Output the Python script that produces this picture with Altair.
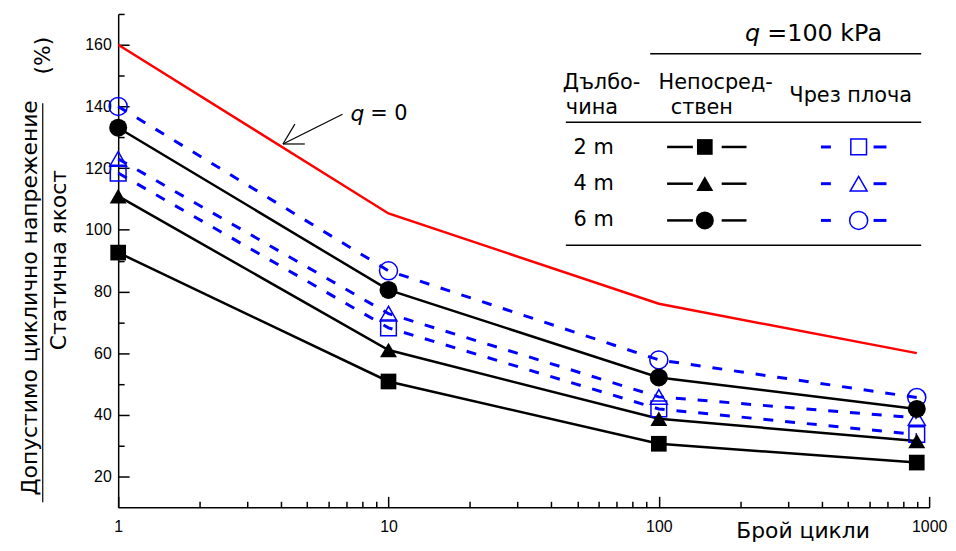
import altair as alt
import pandas as pd

FONT = "DejaVu Sans"
TICK_FONT = "Liberation Sans"

# ---------------- data ----------------
cycles = [1, 10, 100, 900]
q0_line = [160, 105.3, 76, 60]
depths = ["2 m", "4 m", "6 m"]
direct = {
    "2 m": [92.6, 50.8, 30.6, 24.5],
    "4 m": [110.9, 61, 38.7, 31.5],
    "6 m": [133.1, 80.5, 52.1, 41.9],
}
plate = {
    "2 m": [118.4, 68.2, 41.9, 33.6],
    "4 m": [123, 72.8, 45.8, 39],
    "6 m": [140, 86.7, 57.8, 45.6],
}
x_major = [1, 10, 100, 1000]
x_minor = [2, 3, 4, 5, 6, 7, 8, 9, 20, 30, 40, 50, 60, 70, 80, 90,
           200, 300, 400, 500, 600, 700, 800, 900]
y_major = [20, 40, 60, 80, 100, 120, 140, 160]
y_minor = [30, 50, 70, 90, 110, 130, 150, 170]

red_df = pd.DataFrame({"N": cycles, "v": q0_line})
rows = []
for d in depths:
    for n, v in zip(cycles, direct[d]):
        rows.append({"N": n, "v": v, "depth": d, "kind": "direct"})
    for n, v in zip(cycles, plate[d]):
        rows.append({"N": n, "v": v, "depth": d, "kind": "plate"})
df = pd.DataFrame(rows)
direct_df = df[df.kind == "direct"]
plate_df = df[df.kind == "plate"]

# ---------------- scales / axes ----------------
xs = alt.Scale(type="log", domain=[1, 1000], nice=False)
ys = alt.Scale(domain=[10, 170], nice=False, zero=False)

common_axis = dict(grid=False, title=None, tickColor="black", tickWidth=1.5,
                   domainColor="black", domainWidth=1.5, labelColor="black",
                   labelFont=TICK_FONT, labelFontSize=16)

ax_x_major = alt.Axis(values=x_major, format="d", orient="bottom",
                      tickSize=alt.ExprRef(expr="-11"), labelPadding=22,
                      labelFlush=False, labelAngle=0, **common_axis)
ax_x_minor = alt.Axis(values=x_minor, orient="bottom", labels=False, domain=False,
                      tickSize=alt.ExprRef(expr="-6"), grid=False, title=None,
                      tickColor="black", tickWidth=1.5)
ax_y_major = alt.Axis(values=y_major, format="d", orient="left",
                      tickSize=alt.ExprRef(expr="-11"), labelPadding=18,
                      **common_axis)
ax_y_minor = alt.Axis(values=y_minor, orient="left", labels=False, domain=False,
                      tickSize=alt.ExprRef(expr="-6"), grid=False, title=None,
                      tickColor="black", tickWidth=1.5)

shape_scale = alt.Scale(domain=depths, range=["square", "triangle-up", "circle"])
size_scale = alt.Scale(domain=depths, range=[250, 330, 290])
leg_size_scale = alt.Scale(domain=depths, range=[220, 300, 230])

red = alt.Chart(red_df).mark_line(color="#ff0000", strokeWidth=2.5).encode(
    x=alt.X("N:Q", scale=xs, axis=ax_x_major),
    y=alt.Y("v:Q", scale=ys, axis=ax_y_major),
)
black_lines = alt.Chart(direct_df).mark_line(color="black", strokeWidth=2.5).encode(
    x=alt.X("N:Q", scale=xs, axis=ax_x_minor),
    y=alt.Y("v:Q", scale=ys, axis=ax_y_minor),
    detail="depth:N",
)
blue_lines = alt.Chart(plate_df).mark_line(color="#0000ff", strokeWidth=3,
                                           strokeDash=[10, 12]).encode(
    x=alt.X("N:Q", scale=xs, axis=None),
    y=alt.Y("v:Q", scale=ys, axis=None),
    detail="depth:N",
)
blue_pts = alt.Chart(plate_df).mark_point(filled=False, color="#0000ff",
                                          strokeWidth=1.5, opacity=1).encode(
    x=alt.X("N:Q", scale=xs, axis=None),
    y=alt.Y("v:Q", scale=ys, axis=None),
    shape=alt.Shape("depth:N", scale=shape_scale, legend=None),
    size=alt.Size("depth:N", scale=size_scale, legend=None),
)
black_pts = alt.Chart(direct_df).mark_point(filled=True, color="black",
                                            opacity=1).encode(
    x=alt.X("N:Q", scale=xs, axis=None),
    y=alt.Y("v:Q", scale=ys, axis=None),
    shape=alt.Shape("depth:N", scale=shape_scale, legend=None),
    size=alt.Size("depth:N", scale=size_scale, legend=None),
)

# ---------------- annotations (pixel layout relative to plot area) ----------------
def texts(items, align="center", size=20, style="normal", angle=0):
    tdf = pd.DataFrame(items, columns=["t", "px", "py"])
    return alt.Chart(tdf).mark_text(align=align, baseline="middle", font=FONT,
                                    fontSize=size, fontStyle=style, angle=angle,
                                    color="black").encode(
        x=alt.X("px:Q", scale=None, axis=None),
        y=alt.Y("py:Q", scale=None, axis=None),
        text="t:N",
    )

seg_df = pd.DataFrame([
    # arrow q=0
    (226, 101, 166, 131, "black", 1.2),
    (166, 131, 178, 111, "black", 1.2),
    (166, 131, 188, 131, "black", 1.2),
    # legend table rules
    (536, 40, 809, 40, "black", 1.5),
    (451, 109, 809, 109, "black", 1.5),
    (451, 233, 809, 233, "black", 1.5),
    # y title fraction line
    (-76, 90, -76, 492, "black", 1.2),
    # legend: black segments
    (553, 134, 579, 134, "black", 2.5), (608, 134, 633, 134, "black", 2.5),
    (553, 171, 579, 171, "black", 2.5), (608, 171, 633, 171, "black", 2.5),
    (553, 208, 579, 208, "black", 2.5), (608, 208, 633, 208, "black", 2.5),
    # legend: blue dashes
    (708, 134, 718, 134, "#0000ff", 3), (761, 134, 774, 134, "#0000ff", 3),
    (708, 171, 718, 171, "#0000ff", 3), (761, 171, 774, 171, "#0000ff", 3),
    (708, 208, 718, 208, "#0000ff", 3), (761, 208, 774, 208, "#0000ff", 3),
], columns=["x1", "y1", "x2", "y2", "c", "w"])
segs = alt.Chart(seg_df).mark_rule().encode(
    x=alt.X("x1:Q", scale=None, axis=None), x2="x2:Q",
    y=alt.Y("y1:Q", scale=None, axis=None), y2="y2:Q",
    color=alt.Color("c:N", scale=None),
    strokeWidth=alt.StrokeWidth("w:Q", scale=None),
)

leg_pts_df = pd.DataFrame({
    "px": [591, 591, 591, 746, 746, 746],
    "py": [134, 171, 208, 134, 171, 208],
    "depth": depths + depths,
    "kind": ["direct"] * 3 + ["plate"] * 3,
})
leg_black = alt.Chart(leg_pts_df[leg_pts_df.kind == "direct"]).mark_point(
    filled=True, color="black", opacity=1).encode(
    x=alt.X("px:Q", scale=None, axis=None),
    y=alt.Y("py:Q", scale=None, axis=None),
    shape=alt.Shape("depth:N", scale=shape_scale, legend=None),
    size=alt.Size("depth:N", scale=leg_size_scale, legend=None),
)
leg_blue = alt.Chart(leg_pts_df[leg_pts_df.kind == "plate"]).mark_point(
    filled=False, color="#0000ff", strokeWidth=1.5, opacity=1).encode(
    x=alt.X("px:Q", scale=None, axis=None),
    y=alt.Y("py:Q", scale=None, axis=None),
    shape=alt.Shape("depth:N", scale=shape_scale, legend=None),
    size=alt.Size("depth:N", scale=leg_size_scale, legend=None),
)

t_italic_a = texts([("q", 241, 101)], size=22, style="italic")
t_italic_b = texts([("q", 639, 20)], size=24, style="italic")
t_eq0 = texts([("= 0", 254, 101)], align="left", size=21)
t_kpa = texts([("=100 kPa", 654, 20)], align="left", size=24)
t_left = texts([("Дълбо-", 448, 70), ("чина", 451, 95)], align="left", size=21)
t_center = texts([("Непосред-", 602, 70), ("ствен", 588, 95),
                  ("Чрез плоча", 738, 83),
                  ("2 m", 479, 135), ("4 m", 479, 171), ("6 m", 479, 208)], size=21)
t_xtitle = texts([("Брой цикли", 690, 521)], size=22)
t_ytitle = texts([("Допустимо циклично напрежение", -89, 286),
                  ("Статична якост", -60, 248),
                  ("(%)", -76, 42)], size=22, angle=270)

chart = alt.layer(
    red, black_lines, blue_lines, blue_pts, black_pts,
    segs, leg_black, leg_blue, t_italic_a, t_italic_b, t_eq0, t_kpa,
    t_left, t_center, t_xtitle, t_ytitle,
).resolve_axis(x="independent", y="independent").properties(
    width=817, height=497,
    autosize=alt.AutoSizeParams(type="none"),
    padding={"left": 111, "top": 4, "right": 19, "bottom": 36},
    background="white",
).configure_view(stroke=None)

chart.save("out.html", embed_options={"renderer": "svg", "actions": False})
